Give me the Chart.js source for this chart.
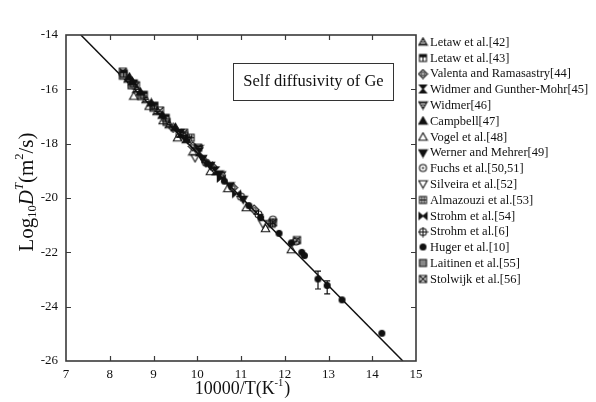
<!DOCTYPE html>
<html>
<head>
<meta charset="utf-8">
<script src="https://cdn.jsdelivr.net/npm/chart.js@4.4.1/dist/chart.umd.min.js"></script>
<style>
  html, body { margin: 0; padding: 0; background: #fff; }
  #wrap { width: 596px; height: 402px; position: relative; }
</style>
</head>
<body>
<div id="wrap"><canvas id="chart"></canvas></div>
<script>
// ---- data (x = 10000/T, y = log10 D) ----
const xTicks = [7, 8, 9, 10, 11, 12, 13, 14, 15];
const yTicks = [-26, -24, -22, -20, -18, -16, -14];

const seriesNames = [
    'Letaw et al.[42]', 'Letaw et al.[43]', 'Valenta and Ramasastry[44]', 'Widmer and Gunther-Mohr[45]',
    'Widmer[46]', 'Campbell[47]', 'Vogel et al.[48]', 'Werner and Mehrer[49]', 'Fuchs et al.[50,51]',
    'Silveira et al.[52]', 'Almazouzi et al.[53]', 'Strohm et al.[54]', 'Strohm et al.[6]',
    'Huger et al.[10]', 'Laitinen et al.[55]', 'Stolwijk et al.[56]'
];

const letaw42 = [[8.42, -15.62], [8.62, -16.0], [8.83, -16.38], [9.08, -16.82], [9.36, -17.3]];
const letaw43 = [[8.32, -15.42], [8.55, -15.78], [8.78, -16.2], [9.02, -16.6], [9.28, -17.05], [9.6, -17.62]];
const valenta = [[9.45, -17.42], [9.9, -18.1], [10.35, -18.85], [10.82, -19.62], [11.3, -20.42]];
const widmerGM = [[9.62, -17.62], [10.05, -18.3], [10.42, -19.0]];
const widmer46 = [[9.78, -17.85], [10.04, -18.18], [10.55, -19.15]];
const campbell = [[8.45, -15.55], [8.52, -15.72], [8.7, -16.1], [8.95, -16.5], [9.2, -16.95], [9.5, -17.4], [9.75, -17.85]];
const vogel = [[8.55, -16.25], [8.9, -16.62], [9.22, -17.15], [9.55, -17.78], [9.9, -18.3], [10.3, -19.02], [10.7, -19.65], [11.12, -20.35], [11.56, -21.12], [12.15, -21.9]];
const werner = [[10.12, -18.55], [10.3, -18.8], [10.5, -19.12], [10.75, -19.55], [11.05, -20.05]];
const fuchs = [[11.73, -20.8], [12.26, -21.6]];
const silveira = [[9.95, -18.52], [11.5, -20.95]];
const almazouzi = [[9.7, -17.7], [9.85, -17.78], [11.7, -20.95]];
const strohm54 = [[10.55, -19.28], [10.9, -19.85]];
const strohm6 = [[10.2, -18.7], [11.0, -19.95], [11.4, -20.6]];
const huger = [[10.22, -18.72], [10.62, -19.38], [11.18, -20.28], [11.45, -20.72], [11.87, -21.3], [12.15, -21.65], [12.39, -22.0], [12.45, -22.12], [12.76, -22.98], [12.97, -23.22], [13.31, -23.75], [14.22, -24.98]];
const laitinen = [[8.3, -15.5], [8.5, -15.85], [8.72, -16.25], [9.0, -16.68], [9.3, -17.2]];
const stolwijk = [[8.3, -15.35], [8.6, -15.85], [9.15, -16.78], [9.7, -17.6], [10.02, -18.15], [11.73, -20.9], [12.28, -21.55]];

// Huger error bars
const errX = [12.76, 12.97];
const errHi = [-22.69, -23.05];
const errLo = [-23.35, -23.53];

// fitted line
const fitX = [7.34, 14.70];
const fitY = [-14, -26];

// ---- marker images ----
const INK = '#111';
function mk(draw) {
    const c = document.createElement('canvas');
    c.width = c.height = 11;
    const g = c.getContext('2d');
    g.strokeStyle = INK; g.fillStyle = INK; g.lineWidth = 1.1;
    g.translate(5.5, 5.5);
    draw(g);
    return c;
}
const triUp = g => { g.beginPath(); g.moveTo(0, -4.2); g.lineTo(4.2, 3.3); g.lineTo(-4.2, 3.3); g.closePath(); };
const triDn = g => { g.beginPath(); g.moveTo(0, 4.2); g.lineTo(4.2, -3.3); g.lineTo(-4.2, -3.3); g.closePath(); };
const sq = g => { g.beginPath(); g.rect(-3.5, -3.5, 7, 7); };
const circ = g => { g.beginPath(); g.arc(0, 0, 3.5, 0, Math.PI * 2); };
const stripes = g => { g.beginPath(); for (let yy = -2; yy <= 2; yy += 2) { g.moveTo(-4, yy); g.lineTo(4, yy); } g.stroke(); };

const markers = [
    mk(g => { triUp(g); g.stroke(); g.save(); triUp(g); g.clip(); stripes(g); g.restore(); }),
    mk(g => { sq(g); g.stroke(); g.fillRect(-3.5, -3.5, 7, 2.8); g.beginPath(); g.moveTo(0, -3.5); g.lineTo(0, 3.5); g.stroke(); }),
    mk(g => { g.beginPath(); g.moveTo(0, -4.4); g.lineTo(4.4, 0); g.lineTo(0, 4.4); g.lineTo(-4.4, 0); g.closePath(); g.stroke(); g.beginPath(); g.arc(0, 0, 1.7, 0, Math.PI * 2); g.stroke(); }),
    mk(g => { g.beginPath(); g.moveTo(-3.5, -4); g.lineTo(3.5, -4); g.lineTo(-3.5, 4); g.lineTo(3.5, 4); g.closePath(); g.fill(); g.stroke(); }),
    mk(g => { triDn(g); g.stroke(); g.save(); triDn(g); g.clip(); stripes(g); g.restore(); }),
    mk(g => { triUp(g); g.fill(); g.stroke(); }),
    mk(g => { triUp(g); g.stroke(); }),
    mk(g => { triDn(g); g.fill(); g.stroke(); }),
    mk(g => { circ(g); g.stroke(); g.beginPath(); g.arc(0, 0, 1.1, 0, Math.PI * 2); g.fill(); }),
    mk(g => { triDn(g); g.stroke(); }),
    mk(g => { sq(g); g.stroke(); g.beginPath(); g.moveTo(-1.2, -3.5); g.lineTo(-1.2, 3.5); g.moveTo(1.2, -3.5); g.lineTo(1.2, 3.5); g.moveTo(-3.5, 0); g.lineTo(3.5, 0); g.stroke(); }),
    mk(g => { g.beginPath(); g.moveTo(-4, -3.3); g.lineTo(4, 3.3); g.lineTo(4, -3.3); g.lineTo(-4, 3.3); g.closePath(); g.fill(); g.stroke(); }),
    mk(g => { circ(g); g.stroke(); g.beginPath(); g.moveTo(-5, 0); g.lineTo(5, 0); g.moveTo(0, -5); g.lineTo(0, 5); g.stroke(); }),
    mk(g => { circ(g); g.fill(); }),
    mk(g => { g.fillStyle = '#888'; g.fillRect(-3.5, -3.5, 7, 7); sq(g); g.stroke(); }),
    mk(g => { sq(g); g.stroke(); g.beginPath(); g.moveTo(-3.5, -3.5); g.lineTo(3.5, 3.5); g.moveTo(3.5, -3.5); g.lineTo(-3.5, 3.5); g.stroke(); })
];

const seriesData = [letaw42, letaw43, valenta, widmerGM, widmer46, campbell, vogel, werner,
    fuchs, silveira, almazouzi, strohm54, strohm6, huger, laitinen, stolwijk];

const SERIF = "'Liberation Serif', 'Times New Roman', serif";

// ---- drawing helpers ----
function richWidth(ctx, parts) {
    let w = 0;
    parts.forEach(p => { ctx.font = (p.it ? 'italic ' : '') + p.s + 'px ' + SERIF; w += ctx.measureText(p.t).width; });
    return w;
}
function drawRich(ctx, parts, x, base) {
    parts.forEach(p => {
        ctx.font = (p.it ? 'italic ' : '') + p.s + 'px ' + SERIF;
        ctx.fillText(p.t, x + (p.dx || 0), base + (p.dy || 0));
        x += ctx.measureText(p.t).width + (p.dx || 0);
    });
}

const decor = {
    id: 'decor',
    afterDatasetsDraw(chart) {
        const {ctx, scales: {x, y}} = chart;
        ctx.save();
        // error bars
        ctx.strokeStyle = INK; ctx.lineWidth = 1.2;
        ctx.beginPath();
        errX.forEach((v, i) => {
            const px = x.getPixelForValue(v), p1 = y.getPixelForValue(errHi[i]), p2 = y.getPixelForValue(errLo[i]);
            ctx.moveTo(px, p1); ctx.lineTo(px, p2);
            ctx.moveTo(px - 3, p1); ctx.lineTo(px + 3, p1);
            ctx.moveTo(px - 3, p2); ctx.lineTo(px + 3, p2);
        });
        ctx.stroke();
        ctx.restore();
    },
    afterDraw(chart) {
        const {ctx, chartArea: a, scales: {x, y}} = chart;
        ctx.save();
        // frame + inward ticks
        ctx.strokeStyle = '#3a3a3a';
        ctx.lineWidth = 1.6;
        ctx.strokeRect(a.left, a.top, a.right - a.left, a.bottom - a.top);
        ctx.lineWidth = 1.2;
        ctx.beginPath();
        x.ticks.forEach(t => {
            const px = Math.round(x.getPixelForValue(t.value)) + 0.5;
            if (px < a.left + 2 || px > a.right - 2) return;
            ctx.moveTo(px, a.bottom); ctx.lineTo(px, a.bottom - 5);
            ctx.moveTo(px, a.top); ctx.lineTo(px, a.top + 5);
        });
        y.ticks.forEach(t => {
            const py = Math.round(y.getPixelForValue(t.value)) + 0.5;
            if (py < a.top + 2 || py > a.bottom - 2) return;
            ctx.moveTo(a.left, py); ctx.lineTo(a.left + 5, py);
            ctx.moveTo(a.right, py); ctx.lineTo(a.right - 5, py);
        });
        ctx.stroke();

        // title box
        ctx.strokeStyle = '#333';
        ctx.lineWidth = 1;
        ctx.fillStyle = '#fff';
        ctx.fillRect(233.5, 63.5, 160, 37);
        ctx.strokeRect(233.5, 63.5, 160, 37);
        ctx.fillStyle = INK;
        ctx.font = '16.5px ' + SERIF;
        ctx.textAlign = 'center';
        ctx.textBaseline = 'middle';
        ctx.fillText('Self diffusivity of Ge', 313.5, 82);

        // legend
        ctx.textAlign = 'left';
        ctx.font = '12.5px ' + SERIF;
        seriesNames.forEach((name, i) => {
            const cy = 42 + i * 15.8;
            ctx.drawImage(markers[i], 423 - 5.5, Math.round(cy) - 5.5);
            ctx.fillText(name, 430, cy + 0.5);
        });

        // axis titles
        ctx.textBaseline = 'alphabetic';
        const xt = [{t: '10000/T(K', s: 18}, {t: '-1', s: 10.5, dy: -8}, {t: ')', s: 18, dx: 1}];
        drawRich(ctx, xt, 242 - richWidth(ctx, xt) / 2, 394);
        const yt = [{t: 'Log', s: 21}, {t: '10', s: 12.5, dy: 3}, {t: 'D', s: 21, it: true}, {t: 'T', s: 12.5, it: true, dy: -10},
            {t: '(m', s: 21}, {t: '2', s: 12.5, dy: -10}, {t: '/s)', s: 21}];
        ctx.translate(33, 192);
        ctx.rotate(-Math.PI / 2);
        drawRich(ctx, yt, -richWidth(ctx, yt) / 2, 0);
        ctx.restore();
    }
};

const datasets = seriesData.map((arr, i) => ({
    type: 'scatter',
    label: seriesNames[i],
    data: arr.map(p => ({x: p[0], y: p[1]})),
    pointStyle: markers[i],
    pointRadius: 4
}));
datasets.push({
    type: 'line',
    label: 'fit',
    data: fitX.map((v, i) => ({x: v, y: fitY[i]})),
    borderColor: INK,
    borderWidth: 1.5,
    pointRadius: 0
});

new Chart(document.getElementById('chart'), {
    type: 'scatter',
    data: {datasets},
    options: {
        responsive: true,
        maintainAspectRatio: false,
        animation: false,
        devicePixelRatio: 1,
        layout: {padding: {left: 0, right: 180, top: 35, bottom: 0}},
        plugins: {legend: {display: false}, tooltip: {enabled: false}},
        scales: {
            x: {
                type: 'linear', min: 7, max: 15,
                afterBuildTicks: s => { s.ticks = xTicks.map(v => ({value: v})); },
                afterFit: s => { s.height = 41; },
                grid: {display: false},
                border: {display: false},
                ticks: {color: INK, font: {family: SERIF, size: 13}, padding: -2, maxRotation: 0}
            },
            y: {
                type: 'linear', min: -26, max: -14,
                afterBuildTicks: s => { s.ticks = yTicks.map(v => ({value: v})); },
                afterFit: s => { s.width = 66; },
                grid: {display: false},
                border: {display: false},
                ticks: {color: INK, font: {family: SERIF, size: 13}, padding: 0}
            }
        }
    },
    plugins: [decor]
});
</script>
</body>
</html>
